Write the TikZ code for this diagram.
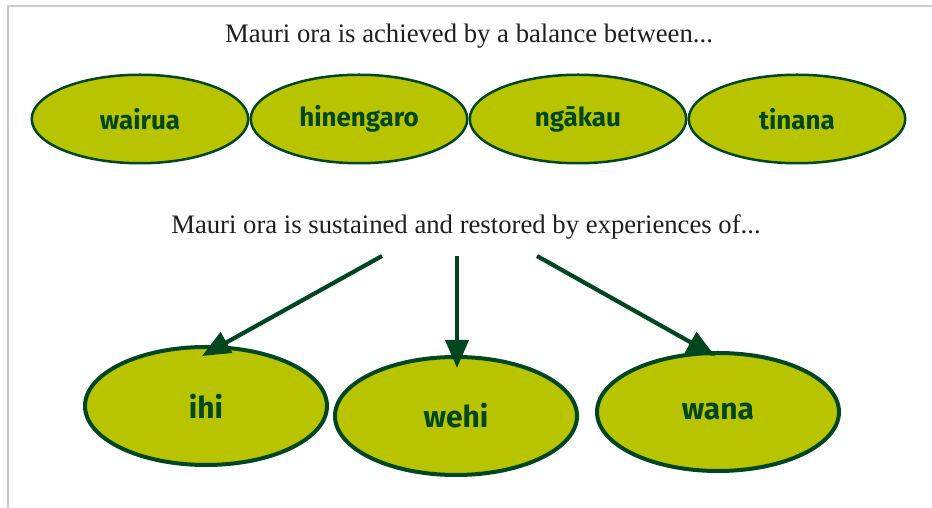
\documentclass[tikz,border=0pt]{standalone}
\usepackage{fontspec}
\setmainfont{Liberation Serif}
\newfontfamily\labelfont{Fira Sans}
\usetikzlibrary{shapes.geometric,arrows.meta,calc}

\definecolor{leaf}{HTML}{B9C400}
\definecolor{forest}{HTML}{00471F}
\definecolor{framegray}{HTML}{CCCCCC}

\begin{document}
\begin{tikzpicture}[x=1pt,y=1pt,
  oval/.style={ellipse, draw=forest, fill=leaf, inner sep=0pt, text=forest},
  topoval/.style={oval, line width=2.5pt, minimum width=216.5pt, minimum height=88.5pt,
    font=\labelfont\bfseries\fontsize{26}{30}\selectfont},
  lowoval/.style={oval, line width=4pt, minimum width=242pt, minimum height=118pt,
    font=\labelfont\bfseries\fontsize{30}{36}\selectfont},
  caption/.style={font=\fontsize{26.7}{30}\selectfont, anchor=base, text=black!88},
  arr/.style={draw=forest, line width=4.2pt, -{Triangle[length=28pt,width=23pt]}}]

\useasboundingbox (0,0) rectangle (932,508);
\fill[white] (0,0) rectangle (932,508);
\draw[framegray, line width=1.5pt] (8,0) -- (8,502) -- (932,502);

% heading lines
\node[caption] (balance) at (469,465) {Mauri ora is achieved by a balance between...};
\node[caption] (sustain) at (466,274) {Mauri ora is sustained and restored by experiences of...};

% the four parts of wellbeing
\node[topoval] (wairua)    at (140,389) {wairua};
\node[topoval] (hinengaro) at (359,389) {hinengaro};
\node[topoval] (ngakau)    at (578,389) {ngākau};
\node[topoval] (tinana)    at (797,389) {tinana};

% the three experiences
\node[lowoval] (ihi)  at (206,102) {ihi};
\node[lowoval] (wehi) at (456,92)  {wehi};
\node[lowoval] (wana) at (718,96)  {wana};

% arrows fanning out below the second heading
\coordinate (s1) at (382,252);
\coordinate (s2) at (457,252);
\coordinate (s3) at (537,252);
\draw[arr] (s1) -- ($(ihi.north)+(-4,-11)$);
\draw[arr] (s2) -- ($(wehi.north)+(1,-13)$);
\draw[arr] (s3) -- ($(wana.north)+(-3,-5)$);
\end{tikzpicture}
\end{document}
